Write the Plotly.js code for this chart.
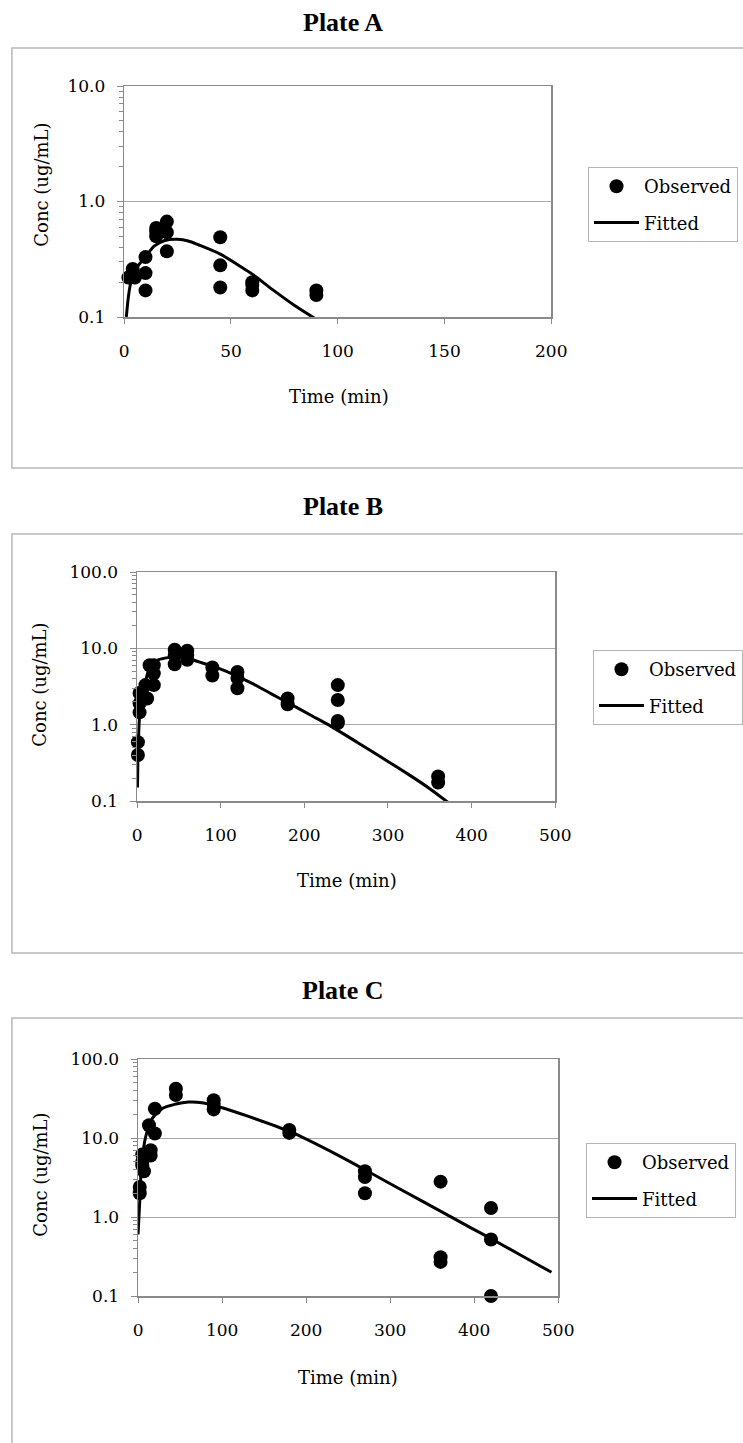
<!DOCTYPE html>
<html><head><meta charset="utf-8">
<script src="https://cdn.plot.ly/plotly-3.0.1.min.js"></script>
<style>html,body{margin:0;padding:0;background:#fff}</style>
</head><body><div id="chart" style="width:743px;height:1443px"></div>
<script>
// ---------- data ----------
const plateTitles = ['Plate A', 'Plate B', 'Plate C'];
const xTitle = 'Time (min)';
const yTitle = 'Conc (ug/mL)';
const legendNames = ['Observed', 'Fitted'];

const tA_obs = [2, 4, 5, 10, 10, 10, 15, 15, 15, 20, 20, 20, 45, 45, 45, 60, 60, 60, 90, 90];
const cA_obs = [0.22, 0.26, 0.22, 0.33, 0.24, 0.17, 0.59, 0.55, 0.50, 0.67, 0.54, 0.37, 0.49, 0.28, 0.18, 0.20, 0.19, 0.17, 0.17, 0.155];
const tA_fit = [1, 2, 3, 5, 7, 10, 14, 19, 25, 30, 35, 45, 55, 60, 70, 80, 89];
const cA_fit = [0.10, 0.15, 0.195, 0.25, 0.285, 0.33, 0.41, 0.46, 0.47, 0.455, 0.42, 0.35, 0.27, 0.235, 0.17, 0.125, 0.098];

const tB_obs = [1, 1, 3, 3, 3, 8, 10, 12, 15, 20, 20, 20, 45, 45, 45, 60, 60, 60, 90, 90, 120, 120, 120, 180, 180, 240, 240, 240, 240, 360, 360];
const cB_obs = [0.59, 0.40, 1.45, 1.9, 2.6, 2.35, 3.3, 2.2, 6.0, 6.0, 4.7, 3.3, 9.6, 8.2, 6.2, 9.3, 8.2, 7.1, 5.6, 4.4, 4.9, 4.1, 3.0, 2.2, 1.85, 3.3, 2.1, 1.12, 1.05, 0.21, 0.175];
const tB_fit = [0.5, 1, 2, 3, 5, 8, 14, 20, 26, 35, 44, 52, 60, 75, 97, 120, 137, 160, 181, 210, 232, 264, 300, 324, 350, 375];
const cB_fit = [0.15, 0.35, 0.8, 1.3, 2.0, 2.9, 5.2, 6.4, 7.1, 7.5, 7.7, 7.6, 7.4, 6.6, 5.5, 4.3, 3.5, 2.55, 1.92, 1.29, 0.95, 0.58, 0.33, 0.225, 0.145, 0.09];

const tC_obs = [2, 2, 5, 5, 5, 7, 13, 15, 15, 20, 20, 45, 45, 90, 90, 90, 180, 180, 270, 270, 270, 360, 360, 360, 420, 420, 420];
const cC_obs = [2.4, 2.0, 6.2, 5.0, 4.5, 3.8, 14.5, 7.0, 6.0, 23.5, 11.4, 42, 35, 30, 27, 23, 12.6, 11.6, 3.8, 3.2, 2.0, 2.8, 0.31, 0.27, 1.3, 0.52, 0.1];
const tC_fit = [0, 2, 4, 9, 17, 29, 45, 60, 76, 96, 135, 181, 236, 277, 317, 356, 395, 419, 455, 492];
const cC_fit = [0.6, 1.6, 4.3, 10.3, 17.7, 23.7, 26.9, 28.5, 28, 24.9, 18.2, 12.0, 6.2, 3.6, 2.1, 1.25, 0.74, 0.54, 0.33, 0.2];

const yTickValsA = [0.1, 1, 10];
const yTickTextA = ['0.1', '1.0', '10.0'];
const yTickValsBC = [0.1, 1, 10, 100];
const yTickTextBC = ['0.1', '1.0', '10.0', '100.0'];

// ---------- layout helpers ----------
const W = 743, H = 1443;
const px = x => x / W, py = y => 1 - y / H;
const serif = 'DejaVu Serif';
const gray = '#8a8a8a';
const tickFont = {family: serif, size: 17, color: '#000'};

// minor tick positions (2..9 within each decade)
function minorVals(decLo, decHi) {
  const v = [];
  for (let d = decLo; d < decHi; d++) for (let k = 2; k <= 9; k++) v.push(k * Math.pow(10, d));
  return v;
}

function xax(x0, x1, range, dtick, anchor) {
  return {domain: [px(x0), px(x1)], range: range, dtick: dtick, tick0: 0, anchor: anchor,
    showgrid: false, zeroline: false, showline: true, mirror: true, linecolor: gray, linewidth: 1.5,
    ticks: 'outside', ticklen: 5, tickcolor: gray, tickwidth: 1, ticklabelstandoff: 13,
    tickfont: tickFont, fixedrange: true};
}
function yax(yTop, yBot, range, vals, text, anchor) {
  return {type: 'log', domain: [py(yBot), py(yTop)], range: range, anchor: anchor,
    tickmode: 'array', tickvals: vals, ticktext: text,
    showgrid: true, gridcolor: '#a8a8a8', gridwidth: 1, zeroline: false,
    showline: true, mirror: true, linecolor: gray, linewidth: 1.5,
    ticks: 'outside', ticklen: 6, tickcolor: gray, tickwidth: 1, ticklabelstandoff: 8,
    tickfont: tickFont, fixedrange: true,
    minor: {tickmode: 'array', tickvals: minorVals(range[0], range[1]), ticks: 'outside',
            ticklen: 4, tickcolor: gray, tickwidth: 1, showgrid: false}};
}
function obsTrace(x, y, xa, ya, leg) {
  return {x: x, y: y, xaxis: xa, yaxis: ya, mode: 'markers', name: legendNames[0],
    marker: {color: '#000', size: 14}, cliponaxis: false, legend: leg, legendgroup: leg + 'o', hoverinfo: 'x+y'};
}
function fitTrace(x, y, xa, ya, leg) {
  return {x: x, y: y, xaxis: xa, yaxis: ya, mode: 'lines', name: legendNames[1],
    line: {color: '#000', width: 3, shape: 'spline', smoothing: 0.8}, legend: leg, legendgroup: leg + 'f', hoverinfo: 'x+y'};
}
function legendBox(x, y) {
  return {x: px(x), y: py(y), xanchor: 'left', yanchor: 'top', bgcolor: '#fff',
    bordercolor: '#b5b5b5', borderwidth: 1, font: {family: serif, size: 18, color: '#000'},
    itemwidth: 45, tracegroupgap: 10};
}
function frame(y0, y1) {
  return {type: 'rect', xref: 'paper', yref: 'paper', x0: px(12), x1: px(770), y0: py(y1), y1: py(y0),
    line: {color: '#b8b8b8', width: 1.5}, layer: 'below'};
}
function ann(text, x, y, opts) {
  return Object.assign({text: text, x: px(x), y: py(y), xref: 'paper', yref: 'paper', showarrow: false,
    xanchor: 'center', yanchor: 'middle', font: {family: serif, size: 18, color: '#000'}}, opts || {});
}
const titleFont = {family: 'Liberation Serif', size: 26, color: '#000', weight: 'bold'};

const data = [
  obsTrace(tA_obs, cA_obs, 'x', 'y', 'legend'),
  fitTrace(tA_fit, cA_fit, 'x', 'y', 'legend'),
  obsTrace(tB_obs, cB_obs, 'x2', 'y2', 'legend2'),
  fitTrace(tB_fit, cB_fit, 'x2', 'y2', 'legend2'),
  obsTrace(tC_obs, cC_obs, 'x3', 'y3', 'legend3'),
  fitTrace(tC_fit, cC_fit, 'x3', 'y3', 'legend3')
];

const layout = {
  width: W, height: H, margin: {l: 0, r: 0, t: 0, b: 0},
  paper_bgcolor: '#fff', plot_bgcolor: '#fff', showlegend: true,
  xaxis: xax(125, 555, [0, 200], 50, 'y'),
  yaxis: yax(86, 317, [-1, 1], yTickValsA, yTickTextA, 'x'),
  xaxis2: xax(138, 559, [0, 500], 100, 'y2'),
  yaxis2: yax(572, 801, [-1, 2], yTickValsBC, yTickTextBC, 'x2'),
  xaxis3: xax(139, 562, [0, 500], 100, 'y3'),
  yaxis3: yax(1059, 1296, [-1, 2], yTickValsBC, yTickTextBC, 'x3'),
  legend: legendBox(592, 167),
  legend2: legendBox(597, 650),
  legend3: legendBox(590, 1143),
  shapes: [frame(48, 468), frame(534, 953), frame(1018, 1460)],
  annotations: [
    ann(plateTitles[0], 345, 23, {font: titleFont}),
    ann(plateTitles[1], 345, 507, {font: titleFont}),
    ann(plateTitles[2], 345, 991, {font: titleFont}),
    ann(yTitle, 42, 185, {textangle: -90}),
    ann(yTitle, 40, 685, {textangle: -90}),
    ann(yTitle, 40, 1175, {textangle: -90}),
    ann(xTitle, 341, 396),
    ann(xTitle, 349, 880),
    ann(xTitle, 350, 1377)
  ]
};

Plotly.newPlot('chart', data, layout, {displayModeBar: false, staticPlot: true});
</script>
</body></html>
